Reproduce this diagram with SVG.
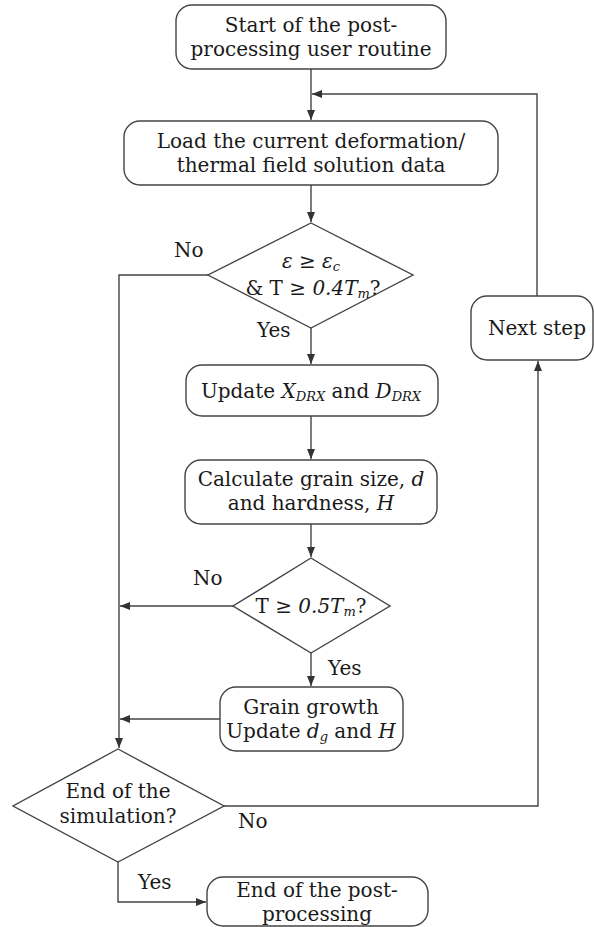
<svg xmlns="http://www.w3.org/2000/svg" width="594" height="927" viewBox="0 0 594 927">
<defs>
<marker id="ah" markerUnits="userSpaceOnUse" markerWidth="10" markerHeight="8" refX="10" refY="4" orient="auto">
<path d="M0,0 L10,4 L0,8 z" fill="#333"/>
</marker>
<style>
.box{fill:#fff;stroke:#444;stroke-width:1.4}
.t{font-family:"DejaVu Serif","Liberation Serif",serif;font-size:20px;fill:#1a1a1a;text-anchor:middle}
.l{font-family:"DejaVu Serif","Liberation Serif",serif;font-size:20px;fill:#1a1a1a}
.i{font-style:italic}
.s{font-size:13px;font-style:italic}
.c{fill:none;stroke:#444;stroke-width:1.4}
</style>
</defs>
<rect width="594" height="927" fill="#fff"/>
<g id="connectors">
<path class="c" d="M311,69 V120" marker-end="url(#ah)"/>
<path class="c" d="M537,296 V94 H312" marker-end="url(#ah)"/>
<path class="c" d="M311,185 V222" marker-end="url(#ah)"/>
<path class="c" d="M208,275 H119 V748" marker-end="url(#ah)"/>
<path class="c" d="M311,315 V364" marker-end="url(#ah)"/>
<path class="c" d="M311,416 V459" marker-end="url(#ah)"/>
<path class="c" d="M311,524 V557" marker-end="url(#ah)"/>
<path class="c" d="M233,606 H120" marker-end="url(#ah)"/>
<path class="c" d="M311,653 V686" marker-end="url(#ah)"/>
<path class="c" d="M220,719 H120" marker-end="url(#ah)"/>
<path class="c" d="M224,806 H538 V361" marker-end="url(#ah)"/>
<path class="c" d="M118,862 V902 H206" marker-end="url(#ah)"/>
<text class="l" x="174" y="257">No</text>
<text class="l" x="257" y="337">Yes</text>
<text class="l" x="193" y="585">No</text>
<text class="l" x="328" y="675">Yes</text>
<text class="l" x="238" y="828">No</text>
<text class="l" x="138" y="889">Yes</text>
</g>
<g id="start">
<rect class="box" x="176" y="5" width="270" height="64" rx="16"/>
<text class="t" x="311" y="32">Start of the post-</text>
<text class="t" x="311" y="56">processing user routine</text>
</g>
<g id="load">
<rect class="box" x="124" y="121" width="374" height="64" rx="16"/>
<text class="t" x="311" y="148">Load the current deformation/</text>
<text class="t" x="311" y="172">thermal field solution data</text>
</g>
<g id="decision1">
<polygon class="box" points="311,223 413,275 311,328 208,275"/>
<text class="t" x="311" y="268"><tspan class="i">ε</tspan> ≥  <tspan class="i">ε</tspan><tspan class="s" dy="3">c</tspan></text>
<text class="t" x="313" y="295">&amp; T ≥ <tspan class="i">0.4T</tspan><tspan class="s" dy="3">m</tspan><tspan dy="-3">?</tspan></text>
</g>
<g id="nextstep">
<rect class="box" x="471" y="296" width="122" height="64" rx="16"/>
<text class="t" x="537" y="335">Next step</text>
</g>
<g id="update">
<rect class="box" x="186" y="365" width="252" height="51" rx="16"/>
<text class="t" x="311" y="398">Update <tspan class="i">X</tspan><tspan class="s" dy="3">DRX</tspan><tspan dy="-3"> and </tspan><tspan class="i">D</tspan><tspan class="s" dy="3">DRX</tspan></text>
</g>
<g id="calculate">
<rect class="box" x="185" y="460" width="252" height="64" rx="16"/>
<text class="t" x="311" y="486">Calculate grain size, <tspan class="i">d</tspan></text>
<text class="t" x="311" y="510">and hardness, <tspan class="i">H</tspan></text>
</g>
<g id="decision2">
<polygon class="box" points="311,558 390,606 311,653 233,606"/>
<text class="t" x="311" y="613">T ≥ <tspan class="i">0.5T</tspan><tspan class="s" dy="3">m</tspan><tspan dy="-3">?</tspan></text>
</g>
<g id="graingrowth">
<rect class="box" x="220" y="687" width="183" height="64" rx="16"/>
<text class="t" x="311" y="714">Grain growth</text>
<text class="t" x="311" y="738">Update <tspan class="i">d</tspan><tspan class="s" dy="3">g</tspan><tspan dy="-3"> and  </tspan><tspan class="i">H</tspan></text>
</g>
<g id="decision3">
<polygon class="box" points="118,749 224,806 118,862 13,806"/>
<text class="t" x="118" y="798">End of the</text>
<text class="t" x="118" y="823">simulation?</text>
</g>
<g id="end">
<rect class="box" x="207" y="877" width="221" height="49" rx="16"/>
<text class="t" x="317" y="897">End of the post-</text>
<text class="t" x="317" y="921">processing</text>
</g>
</svg>
